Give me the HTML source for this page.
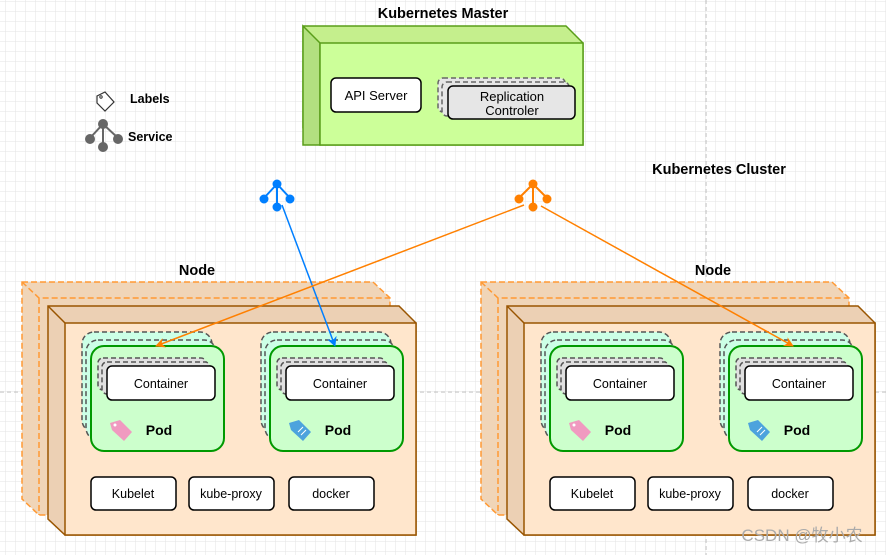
<!DOCTYPE html>
<html><head><meta charset="utf-8"><style>
body{margin:0;background:#fff}
svg{display:block;font-family:"Liberation Sans",Arial,sans-serif}
</style></head><body>
<svg width="886" height="555" viewBox="0 0 886 555" xmlns="http://www.w3.org/2000/svg">
<defs>
<pattern id="g" width="10" height="10" patternUnits="userSpaceOnUse" x="6" y="2">
<path d="M10 0V10M0 10H10" fill="none" stroke="#e3e3e3" stroke-width="1"/>
</pattern>
<marker id="ao" viewBox="0 0 10 10" refX="9" refY="5" markerWidth="10" markerHeight="10" orient="auto" markerUnits="userSpaceOnUse"><path d="M0 0L10 5L0 10L3 5z" fill="#ff8000"/></marker>
<marker id="ab" viewBox="0 0 10 10" refX="9" refY="5" markerWidth="10" markerHeight="10" orient="auto" markerUnits="userSpaceOnUse"><path d="M0 0L10 5L0 10L3 5z" fill="#007fff"/></marker>
<g id="node">
 <path d="M22 282H373L390 298V515H39L22 499Z" fill="#f0d5b8" stroke="#ff9933" stroke-width="1.5" stroke-dasharray="6 3"/>
 <path d="M22 282L39 298H390M39 298V515" fill="none" stroke="#ff9933" stroke-width="1.5" stroke-dasharray="6 3"/>
 <path d="M48 306H399L416 323V535H65L48 519Z" fill="#ecd0b4" stroke="#995500" stroke-width="1.5"/>
 <rect x="65" y="323" width="351" height="212" fill="#ffe6cc" stroke="#995500" stroke-width="1.5"/>
 <path d="M48 306L65 323" stroke="#995500" stroke-width="1.5"/>
 <g id="pod">
  <rect x="82" y="332" width="130" height="100" rx="12" fill="#ccffe6" stroke="#555" stroke-width="1.5" stroke-dasharray="5 3"/>
  <rect x="86" y="340" width="130" height="100" rx="12" fill="#ccffe6" stroke="#555" stroke-width="1.5" stroke-dasharray="5 3"/>
  <rect x="91" y="346" width="133" height="105" rx="13" fill="#ccffcc" stroke="#009900" stroke-width="2"/>
  <rect x="98" y="358" width="108" height="32" rx="5" fill="#e0e0e0" stroke="#555" stroke-width="1.5" stroke-dasharray="5 3"/>
  <rect x="102" y="362" width="108" height="32" rx="5" fill="#e0e0e0" stroke="#555" stroke-width="1.5" stroke-dasharray="5 3"/>
  <rect x="107" y="366" width="108" height="34" rx="5" fill="#fff" stroke="#000" stroke-width="1.5"/>
  <text x="161" y="388" font-size="12.5" text-anchor="middle">Container</text>
  <text x="159" y="435" font-size="14" font-weight="bold" text-anchor="middle">Pod</text>
 </g>
 <use href="#pod" x="179"/>
 <path d="M110 423L120 420L132 432L124 441L112 430Z" fill="#f09ac0"/>
 <circle cx="115" cy="425" r="1.5" fill="#fff"/>
 <path d="M289 423L299 420L311 432L303 441L291 430Z" fill="#4da3dd"/>
 <path d="M298 432L303 427M301 435L306 430" stroke="#fff" stroke-width="1"/>
 <g font-size="12.5" text-anchor="middle">
  <rect x="91" y="477" width="85" height="33" rx="5" fill="#fff" stroke="#000" stroke-width="1.5"/><text x="133" y="498">Kubelet</text>
  <rect x="189" y="477" width="85" height="33" rx="5" fill="#fff" stroke="#000" stroke-width="1.5"/><text x="231" y="498">kube-proxy</text>
  <rect x="289" y="477" width="85" height="33" rx="5" fill="#fff" stroke="#000" stroke-width="1.5"/><text x="331" y="498">docker</text>
 </g>
</g>
</defs>
<rect width="886" height="555" fill="url(#g)"/>
<line x1="706" y1="0" x2="706" y2="555" stroke="#bbb" stroke-dasharray="4 3"/>
<line x1="0" y1="392" x2="886" y2="392" stroke="#bbb" stroke-dasharray="4 3"/>

<text x="443" y="18" font-size="14.5" font-weight="bold" text-anchor="middle">Kubernetes Master</text>
<path d="M303 26H566L583 43V145H320L303 128Z" fill="#c5ef8d" stroke="#5a9e1a" stroke-width="1.5"/>
<path d="M303 26L320 43V145H303Z" fill="#b3e080" stroke="#5a9e1a" stroke-width="1.5"/>
<rect x="320" y="43" width="263" height="102" fill="#ccff99" stroke="#5a9e1a" stroke-width="1.5"/>
<rect x="331" y="78" width="90" height="34" rx="5" fill="#fff" stroke="#000" stroke-width="1.5"/>
<text x="376" y="100" font-size="13" text-anchor="middle">API Server</text>
<rect x="438" y="78" width="127" height="34" rx="5" fill="#e6e6e6" stroke="#666" stroke-width="1.5" stroke-dasharray="5 3"/>
<rect x="442" y="82" width="127" height="34" rx="5" fill="#e6e6e6" stroke="#666" stroke-width="1.5" stroke-dasharray="5 3"/>
<rect x="448" y="86" width="127" height="33" rx="5" fill="#e6e6e6" stroke="#000" stroke-width="1.5"/>
<text x="512" y="101" font-size="13" text-anchor="middle">Replication</text>
<text x="512" y="115" font-size="13" text-anchor="middle">Controler</text>

<path d="M97 96L105 92L114 102L105 111L97 103Z" fill="#fff" stroke="#333" stroke-width="1.2"/>
<circle cx="101" cy="97" r="1.2" fill="none" stroke="#333"/>
<text x="130" y="103" font-size="12.5" font-weight="bold">Labels</text>
<g stroke="#666" stroke-width="2" fill="#666">
<path d="M103 124V146M103 124L90 138M103 124L118 138" fill="none"/>
<circle cx="103" cy="124" r="4"/><circle cx="90" cy="139" r="4"/><circle cx="118" cy="139" r="4"/><circle cx="103" cy="147" r="4"/>
</g>
<text x="128" y="141" font-size="12.5" font-weight="bold">Service</text>

<text x="719" y="174" font-size="14.5" font-weight="bold" text-anchor="middle">Kubernetes Cluster</text>

<g stroke="#007fff" stroke-width="2" fill="#007fff">
<path d="M277 184V203M277 184L264 198M277 184L290 198" fill="none"/>
<circle cx="277" cy="184" r="3.5"/><circle cx="264" cy="199" r="3.5"/><circle cx="290" cy="199" r="3.5"/><circle cx="277" cy="207" r="3.5"/>
</g>
<g stroke="#ff8000" stroke-width="2" fill="#ff8000">
<path d="M533 184V203M533 184L519 198M533 184L547 198" fill="none"/>
<circle cx="533" cy="184" r="3.5"/><circle cx="519" cy="199" r="3.5"/><circle cx="547" cy="199" r="3.5"/><circle cx="533" cy="207" r="3.5"/>
</g>

<text x="197" y="275" font-size="14.5" font-weight="bold" text-anchor="middle">Node</text>
<text x="713" y="275" font-size="14.5" font-weight="bold" text-anchor="middle">Node</text>
<use href="#node"/>
<use href="#node" x="459"/>

<line x1="282" y1="205" x2="335" y2="346" stroke="#007fff" stroke-width="1.5" marker-end="url(#ab)"/>
<line x1="524" y1="205" x2="156" y2="346" stroke="#ff8000" stroke-width="1.5" marker-end="url(#ao)"/>
<line x1="541" y1="206" x2="793" y2="346" stroke="#ff8000" stroke-width="1.5" marker-end="url(#ao)"/>

<text x="802" y="541" font-size="17" fill="#aaa" text-anchor="middle" font-family="Liberation Sans,'Noto Sans CJK SC',sans-serif">CSDN @牧小农</text>
</svg>
</body></html>
